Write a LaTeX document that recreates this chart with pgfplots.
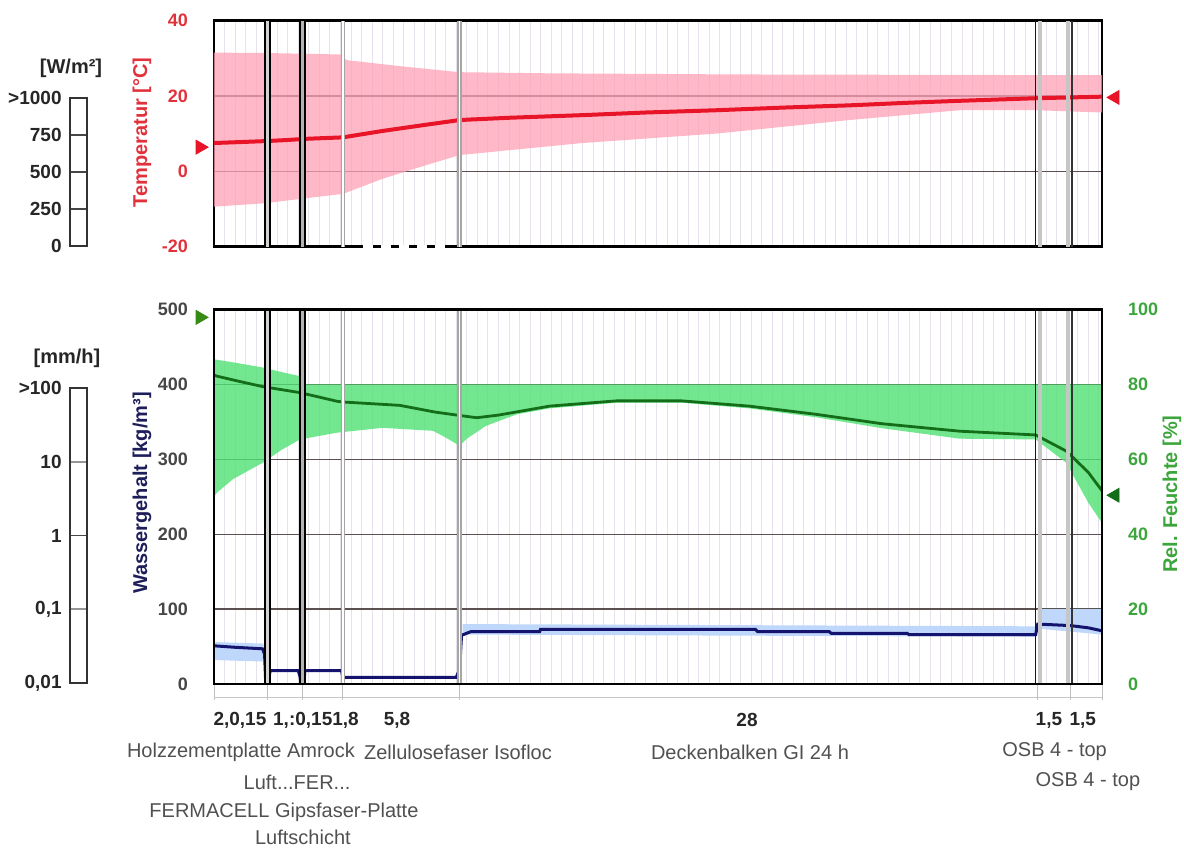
\documentclass[border=0pt]{standalone}
\usepackage{fontspec}
\setmainfont{Liberation Sans}
\usepackage{pgfplots}
\pgfplotsset{compat=1.18}

\definecolor{tred}{RGB}{232,20,40}
\definecolor{tpink}{RGB}{255,160,182}
\definecolor{rhgreen}{RGB}{20,110,25}
\definecolor{rhband}{RGB}{80,225,115}
\definecolor{wblue}{RGB}{20,20,110}
\definecolor{wband}{RGB}{190,215,250}
\definecolor{gridlight}{RGB}{230,225,234}
\definecolor{griddark}{RGB}{90,80,80}
\definecolor{lblred}{RGB}{225,50,60}
\definecolor{lblgreen}{RGB}{60,165,60}
\definecolor{lblgray}{RGB}{70,70,70}
\definecolor{navy}{RGB}{30,30,90}
\definecolor{namegray}{RGB}{80,80,80}
\definecolor{boxline}{RGB}{70,70,70}
\definecolor{boxlight}{RGB}{150,150,150}

\newcommand{\bnd}[4]{\addplot[#1] coordinates {(#2,#3) (#2,#4)};}

\pgfplotsset{
  wufi/.style={scale only axis, anchor=south west, xmin=0, xmax=42.15, clip=false,
    xtick={0.5,1,...,42}, xticklabels={}, xmajorgrids=true,
    major grid style={gridlight, line width=0.4pt},
    yminorgrids=true, minor grid style={griddark, line width=0.6pt},
    major tick length=0pt, minor tick length=0pt,
    axis line style={black, line width=1.4pt},
    /pgf/number format/assume math mode=true,
    tick label style={font=\bfseries\fontsize{9}{10}\selectfont},
  },
}

\begin{document}
\begin{tikzpicture}
\useasboundingbox (0,0) rectangle (592pt,425pt);

% ---------- left scale boxes (drawn as plain frames with divisions) ----------
\begin{scope}[every node/.style={font=\bfseries\fontsize{9.5}{10}\selectfont, text=black!85, anchor=east, inner sep=0pt}]
\fill[boxline] (35pt,320.1pt) rectangle (43.5pt,320.9pt);
\fill[boxline] (35pt,338.6pt) rectangle (43.5pt,339.4pt);
\fill[boxline] (35pt,357.1pt) rectangle (43.5pt,357.9pt);
\draw[black!80, line width=0.6pt] (35pt,302pt) rectangle (43.5pt,376pt);
\node at (31pt,302pt) {0};
\node at (31pt,320.5pt) {250};
\node at (31pt,339pt) {500};
\node at (31pt,357.5pt) {750};
\node at (31pt,376pt) {>1000};

\fill[boxlight] (35pt,120.0pt) rectangle (43.5pt,120.8pt);
\fill[boxline] (35pt,156.85pt) rectangle (43.5pt,157.65pt);
\fill[boxlight] (35pt,193.7pt) rectangle (43.5pt,194.5pt);
\draw[black!80, line width=0.6pt] (35pt,83.5pt) rectangle (43.5pt,231pt);
\node at (31pt,83.5pt) {0,01};
\node at (31pt,120.4pt) {0,1};
\node at (31pt,157.25pt) {1};
\node at (31pt,194.1pt) {10};
\node at (31pt,231pt) {>100};
\end{scope}
\node[font=\bfseries\fontsize{10}{12}\selectfont, text=black!85] at (35.5pt,391pt) {[W/m²]};
\node[font=\bfseries\fontsize{10}{12}\selectfont, text=black!85] at (33.5pt,246pt) {[mm/h]};

% ---------- temperature axis ----------
\begin{axis}[wufi, at={(107pt,301.7pt)}, width=444pt, height=113pt,
  ymin=-20, ymax=40, ytick={-20,0,20,40}, minor ytick={0,20},
  yticklabel style={text=lblred, xshift=-9.5pt}]
\addplot[fill=tpink, fill opacity=0.75, draw=none] coordinates {
 (0,31.5) (2.4,31.4) (4.3,31.2) (6.0,31.0) (6.3,29.5) (9,27.8) (11.66,26.3)
 (16,26.0) (25,25.7) (42.15,25.5)
 (42.15,15.6) (39.07,16.2) (35.37,16.2) (30.16,13.6) (23.85,10.0) (17.5,7.5)
 (11.66,4.3) (10,1.5) (8,-2.0) (6.12,-6.0) (4.3,-7.2) (2.4,-8.5) (0,-9.4)} -- cycle;
\addplot[tred, line width=2pt] coordinates {
 (0,7.5) (1,7.7) (2.42,8.0) (3.5,8.3) (4.3,8.6) (6.12,9.0) (7,9.8) (8,10.7) (9,11.5)
 (10,12.3) (11.66,13.6) (14,14.2) (17.5,14.9) (20.5,15.6) (23.85,16.2) (27,16.9)
 (30.16,17.5) (33,18.2) (35.37,18.7) (37.5,19.1) (39.07,19.4) (40.64,19.6) (42.15,19.8)};
% layer boundaries
\bnd{gray!35, line width=2pt}{2.54}{-20}{40}
\bnd{black, line width=1.1pt}{2.42}{-20}{40}
\bnd{black, line width=1.1pt}{2.66}{-20}{40}
\bnd{gray!60, line width=2.4pt}{4.2}{-20}{40}
\bnd{black, line width=1.4pt}{4.08}{-20}{40}
\bnd{black, line width=1pt}{4.31}{-20}{40}
\bnd{gray!70, line width=2.2pt}{6.12}{-20}{40}
\bnd{white, line width=0.8pt}{6.12}{-20}{40}
\bnd{gray!70, line width=2.2pt}{11.66}{-20}{40}
\bnd{white, line width=0.8pt}{11.66}{-20}{40}
\bnd{wblue!70!black, line width=0.8pt}{39.0}{-20}{40}
\bnd{gray!45, line width=2pt}{39.2}{-20}{40}
\bnd{gray!45, line width=2pt}{40.55}{-20}{40}
\bnd{black!80, line width=0.8pt}{40.72}{-20}{40}
\addplot[white, line width=1.6pt, dash pattern=on 5pt off 4pt] coordinates {(7.07,-20) (11.3,-20)};
% boundary markers
\addplot[only marks, mark=triangle*, mark size=4pt, color=tred, mark options={rotate=-90}] coordinates {(-0.66,6.4)};
\addplot[only marks, mark=triangle*, mark size=4pt, color=tred, mark options={rotate=90}] coordinates {(42.77,19.6)};
\node[rotate=90, font=\bfseries\fontsize{10}{12}\selectfont, text=lblred] at (axis cs:-3.42,10.3) {Temperatur [°C]};
\end{axis}

% ---------- water content axis (left) ----------
\begin{axis}[wufi, at={(107pt,83pt)}, width=444pt, height=187.25pt,
  ymin=0, ymax=500, ytick={0,100,...,500}, minor ytick={100,200,300,400},
  yticklabel style={text=lblgray, xshift=-9.5pt}]
\addplot[fill=wband, draw=none] coordinates {(0,56) (2.35,54) (2.35,30) (0,32)} -- cycle;
\addplot[fill=wband, draw=none] coordinates {(11.8,80) (39.0,77) (39.0,63) (11.8,66)} -- cycle;
\addplot[fill=wband, draw=none] coordinates {(39.1,100) (42.15,100) (42.15,66) (39.1,74)} -- cycle;
\addplot[wblue, line width=1.5pt] coordinates {
 (0,51) (1,49) (2.3,47) (2.4,40) (2.45,5) (2.6,5) (2.66,17.8) (4.0,17.8) (4.08,10)
 (4.12,3) (4.28,3) (4.31,17.8) (6.05,17.8) (6.12,9) (11.5,9) (11.66,20) (11.75,65)
 (12.2,70) (15.46,70) (15.5,73) (25.7,73) (25.8,70) (29.2,70) (29.3,67.6) (32.9,67.6)
 (33,65.8) (39.0,65.8) (39.1,80) (40.64,78) (41.5,75) (42.15,71)};
% ruler strip
\addplot[gray!45, line width=0.6pt] coordinates {(0,-18) (42.15,-18)};
\bnd{gray!50, line width=0.5pt}{0}{-2}{-22}
\bnd{gray!50, line width=0.5pt}{2.54}{-2}{-22}
\bnd{gray!50, line width=0.5pt}{4.2}{-2}{-22}
\bnd{gray!50, line width=0.5pt}{6.12}{-2}{-22}
\bnd{gray!50, line width=0.5pt}{11.66}{-2}{-22}
\bnd{gray!50, line width=0.5pt}{39.1}{-2}{-22}
\bnd{gray!50, line width=0.5pt}{40.64}{-2}{-22}
\bnd{gray!50, line width=0.5pt}{42.15}{-2}{-22}
% thickness labels
\begin{scope}[every node/.style={font=\bfseries\fontsize{9.5}{11}\selectfont, text=black!85}]
\node at (axis cs:1.23,-48) {2,0,15};
\node at (axis cs:4.84,-48) {1,:0,151,8};
\node at (axis cs:8.69,-48) {5,8};
\node at (axis cs:25.3,-48) {28};
\node at (axis cs:39.63,-48) {1,5};
\node at (axis cs:41.24,-48) {1,5};
\end{scope}
% layer names
\begin{scope}[every node/.style={font=\fontsize{10}{12}\selectfont, text=namegray}]
\node at (axis cs:1.28,-90.8) {Holzzementplatte Amrock};
\node at (axis cs:11.58,-90.8) {Zellulosefaser Isofloc};
\node at (axis cs:25.44,-90.8) {Deckenbalken GI 24 h};
\node at (axis cs:39.9,-90.8) {OSB 4 - top};
\node at (axis cs:3.94,-130.8) {Luft...FER...};
\node at (axis cs:41.48,-130.8) {OSB 4 - top};
\node at (axis cs:3.32,-170.9) {FERMACELL Gipsfaser-Platte};
\node at (axis cs:4.22,-205) {Luftschicht};
\end{scope}
\node[rotate=90, font=\bfseries\fontsize{10}{12}\selectfont, text=navy] at (axis cs:-3.42,255) {Wassergehalt [kg/m³]};
\end{axis}

% ---------- relative humidity axis (right) ----------
\begin{axis}[scale only axis, anchor=south west, at={(107pt,83pt)}, width=444pt, height=187.25pt,
  xmin=0, xmax=42.15, ymin=0, ymax=100, clip=false,
  axis y line*=right, axis x line=none, ytick={0,20,...,100},
  major tick length=0pt, axis line style={black, line width=1.4pt},
  /pgf/number format/assume math mode=true,
  tick label style={font=\bfseries\fontsize{9}{10}\selectfont},
  yticklabel style={text=lblgreen, xshift=9.5pt}]
\addplot[fill=rhband, fill opacity=0.8, draw=none] coordinates {
 (0,86.7) (1,85.8) (2.32,84.5) (3.2,83.3) (4.08,82.2) (4.3,80) (42.15,80)
 (42.15,43) (41.5,48.4) (40.45,59.1) (39.0,65.3) (35.4,65.5) (31.7,68.3) (28.6,71.2)
 (25.4,73.6) (22.2,75.1) (19.1,75.1) (15.93,73.6) (14.37,72) (12.9,68.9) (12.0,65.5)
 (11.66,63.6) (11.0,65.8) (10.4,67.6) (8.0,68.4) (5.83,67.1) (4.08,65.3) (3.2,62.5)
 (2.32,59.1) (0.9,54.7) (0.14,51.1) (0,50)} -- cycle;
\addplot[rhgreen, line width=1.4pt] coordinates {
 (0,82.5) (0.14,82.2) (1.2,80.8) (2.32,79.4) (3.2,78.6) (4.08,77.8) (5.0,76.6)
 (5.83,75.5) (6.12,75.3) (8.82,74.4) (10.5,72.6) (11.66,71.7) (12.47,71.1) (13.5,71.8)
 (15.93,74.2) (19.1,75.6) (22.2,75.6) (25.4,74.2) (28.6,72) (31.7,69.5) (35.4,67.5)
 (39.0,66.5) (40.45,62.2) (40.7,60.9) (41.5,56.5) (42.15,51.6)};
% layer boundaries
\bnd{gray!35, line width=2pt}{2.54}{0}{100}
\bnd{black, line width=1.1pt}{2.42}{0}{100}
\bnd{black, line width=1.1pt}{2.66}{0}{100}
\bnd{gray!60, line width=2.4pt}{4.2}{0}{100}
\bnd{black, line width=1.4pt}{4.08}{0}{100}
\bnd{black, line width=1pt}{4.31}{0}{100}
\bnd{gray!70, line width=2.2pt}{6.12}{0}{100}
\bnd{white, line width=0.8pt}{6.12}{0}{100}
\bnd{gray!70, line width=2.2pt}{11.66}{0}{100}
\bnd{white, line width=0.8pt}{11.66}{0}{100}
\bnd{wblue!70!black, line width=0.8pt}{39.0}{0}{100}
\bnd{gray!45, line width=2pt}{39.2}{0}{100}
\bnd{gray!45, line width=2pt}{40.55}{0}{100}
\bnd{black!80, line width=0.8pt}{40.72}{0}{100}
\addplot[black, line width=1.4pt] coordinates {(0,0) (42.15,0) (42.15,100) (0,100) (0,0)};
% boundary markers
\addplot[only marks, mark=triangle*, mark size=4pt, color=rhgreen!80!lime, mark options={rotate=-90}] coordinates {(-0.66,97.9)};
\addplot[only marks, mark=triangle*, mark size=4pt, color=rhgreen, mark options={rotate=90}] coordinates {(42.77,50.4)};
\node[rotate=90, font=\bfseries\fontsize{10}{12}\selectfont, text=lblgreen] at (axis cs:45.47,50.7) {Rel. Feuchte [\%]};
\end{axis}
\end{tikzpicture}
\end{document}
